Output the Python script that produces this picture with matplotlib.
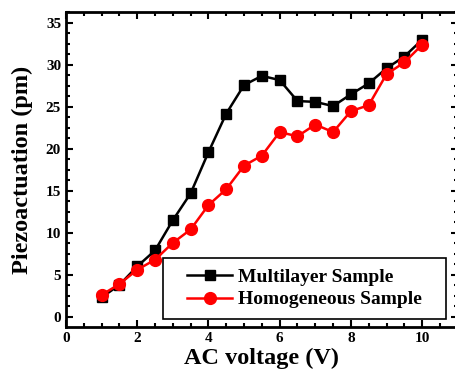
import matplotlib
matplotlib.use("Agg")
import matplotlib.pyplot as plt
from matplotlib.patches import Rectangle
from matplotlib.ticker import MultipleLocator, AutoMinorLocator

voltage = [1.0, 1.5, 2.0, 2.5, 3.0, 3.5, 4.0, 4.5, 5.0, 5.5,
           6.0, 6.5, 7.0, 7.5, 8.0, 8.5, 9.0, 9.5, 10.0]
multilayer = [2.3, 3.8, 6.0, 7.9, 11.5, 14.7, 19.6, 24.2, 27.6, 28.7,
              28.2, 25.7, 25.6, 25.1, 26.5, 27.8, 29.6, 31.0, 33.0]
homogeneous = [2.6, 3.9, 5.6, 6.8, 8.8, 10.4, 13.3, 15.2, 18.0, 19.2,
               22.0, 21.5, 22.9, 22.0, 24.5, 25.2, 28.9, 30.3, 32.4]

plt.rcParams["font.family"] = ["Liberation Serif", "DejaVu Serif"]
plt.rcParams["font.weight"] = "bold"

fig = plt.figure(figsize=(4.55, 3.77), dpi=100)
# right spine sits just past the image edge, as in the original
ax = fig.add_axes([0.145, 0.133, 0.861, 0.835])

ax.plot(voltage, multilayer, color="black", marker="s", markersize=7,
        linewidth=1.8, label="Multilayer Sample")
ax.plot(voltage, homogeneous, color="red", marker="o", markersize=8.5,
        linewidth=1.8, label="Homogeneous Sample")

ax.set_xlim(0, 11)
ax.set_ylim(-1.2, 36.3)
ax.xaxis.set_major_locator(MultipleLocator(2))
ax.xaxis.set_minor_locator(MultipleLocator(0.5))
ax.yaxis.set_major_locator(MultipleLocator(5))
ax.yaxis.set_minor_locator(AutoMinorLocator(4))
ax.tick_params(which="both", direction="in", top=True, right=True,
               width=1.5, labelsize=11)
ax.tick_params(which="major", length=5)
ax.tick_params(which="minor", length=3)
for s in ax.spines.values():
    s.set_linewidth(2)

ax.set_xlabel("AC voltage (V)", fontsize=17.5, fontweight="bold", labelpad=2)
ax.set_ylabel("Piezoactuation (pm)", fontsize=17.5, fontweight="bold", labelpad=9)

# legend frame drawn separately so the side padding can differ from the top
box = (0.248, 0.025, 0.721, 0.194)
ax.add_patch(Rectangle(box[:2], box[2], box[3], transform=ax.transAxes,
                       fill=False, edgecolor="black", linewidth=1.2, zorder=5))
leg = ax.legend(loc="center", bbox_to_anchor=(box[0] + box[2] / 2, box[1] + box[3] / 2),
                frameon=False, fontsize=14, handlelength=2.3,
                labelspacing=0.25, handletextpad=0.3, borderpad=0)
for t in leg.get_texts():
    t.set_fontweight("bold")

fig.savefig("out.png", dpi=100)
